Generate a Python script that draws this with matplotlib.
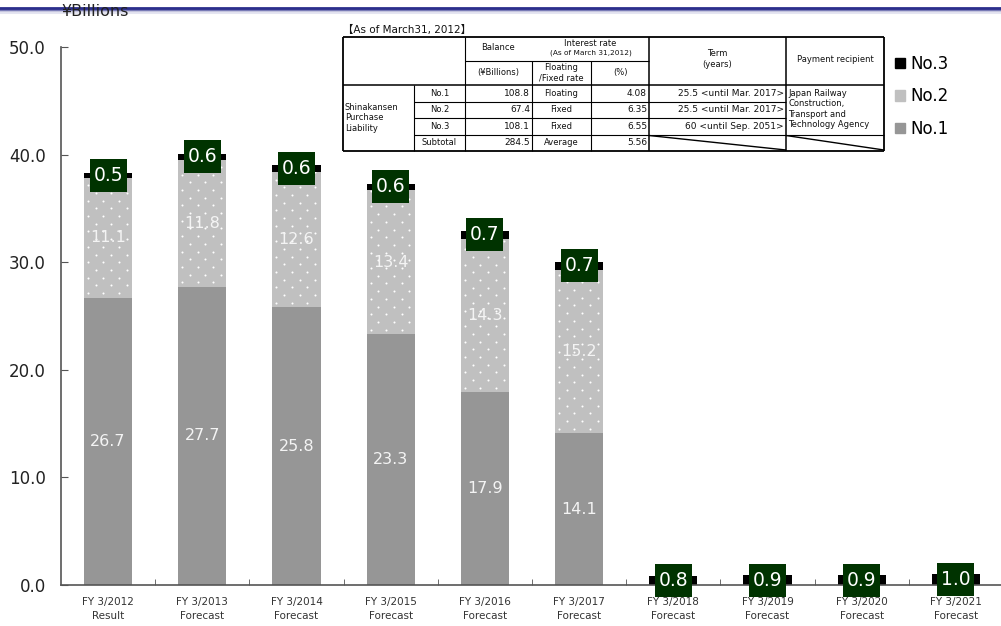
import matplotlib
matplotlib.use("Agg")
import matplotlib.pyplot as plt
import numpy as np
from matplotlib.patches import Patch, Rectangle

plt.rcParams['font.family'] = ['DejaVu Sans', 'Noto Sans CJK JP']

# ---------------- data ----------------
categories = ["FY 3/2012\nResult", "FY 3/2013\nForecast", "FY 3/2014\nForecast",
              "FY 3/2015\nForecast", "FY 3/2016\nForecast", "FY 3/2017\nForecast",
              "FY 3/2018\nForecast", "FY 3/2019\nForecast", "FY 3/2020\nForecast",
              "FY 3/2021\nForecast"]
no1 = [26.7, 27.7, 25.8, 23.3, 17.9, 14.1, 0, 0, 0, 0]
no2 = [11.1, 11.8, 12.6, 13.4, 14.3, 15.2, 0, 0, 0, 0]
no3 = [0.5, 0.6, 0.6, 0.6, 0.7, 0.7, 0.8, 0.9, 0.9, 1.0]
yticks = [0, 10, 20, 30, 40, 50]

table_title = "【As of March31, 2012】"
table_group = "Shinakansen\nPurchase\nLiability"
table_names = ["No.1", "No.2", "No.3", "Subtotal"]
table_balance = ["108.8", "67.4", "108.1", "284.5"]
table_type = ["Floating", "Fixed", "Fixed", "Average"]
table_rate = ["4.08", "6.35", "6.55", "5.56"]
table_term = ["25.5 <until Mar. 2017>", "25.5 <until Mar. 2017>", "60 <until Sep. 2051>", ""]
table_recipient = "Japan Railway\nConstruction,\nTransport and\nTechnology Agency"

# ---------------- figure ----------------
W, H = 1001, 626
fig = plt.figure(figsize=(W / 100, H / 100), dpi=100)

def fx(px):
    return px / W

def fy(py):
    return 1 - py / H

ax = fig.add_axes([fx(61), fy(585), fx(1003) - fx(61), fy(47) - fy(585)])

c1, c2, c3 = "#969696", "#C0C0C0", "#000000"
x = np.arange(len(categories))
bw = 0.51
b1 = ax.bar(x, no1, bw, color=c1, linewidth=0, zorder=2)
bottom2 = np.array(no1)
b2 = ax.bar(x, no2, bw, bottom=bottom2, color=c2, linewidth=0, zorder=2)
bottom3 = bottom2 + np.array(no2)
b3 = ax.bar(x, no3, bw, bottom=bottom3, color=c3, linewidth=0, zorder=2)

ax.set_xlim(-0.5, len(categories) - 0.5)
ax.set_ylim(0, 50)

px_per_x = (1003 - 61) / len(categories)
px_per_y = (585 - 47) / 50.0

# dotted texture on No.2 bars
dx = 15.5 / px_per_x
dy = 7.7 / px_per_y
for rect, v in zip(b2, no2):
    if v <= 0:
        continue
    x0 = rect.get_x()
    y0 = rect.get_y()
    xs, ys = [], []
    for r, yy in enumerate(np.arange(y0 + dy * 0.6, y0 + v, dy)):
        off = 0.25 * dx if r % 2 == 0 else 0.75 * dx
        for xx in np.arange(x0 + off, x0 + bw, dx):
            xs.append(xx)
            ys.append(yy)
    sc = ax.scatter(xs, ys, s=2.2, color="white", linewidths=0, zorder=3)
    sc.set_clip_path(rect)

# value labels
box_w = 37 / px_per_x
box_h = 33 / px_per_y
for i in range(len(categories)):
    if no1[i] > 0:
        ax.text(x[i], no1[i] / 2, f"{no1[i]:.1f}", ha="center", va="center",
                color="#F4F4F4", fontsize=11.5, zorder=5)
    if no2[i] > 0:
        ax.text(x[i], no1[i] + no2[i] / 2, f"{no2[i]:.1f}", ha="center", va="center",
                color="#F4F4F4", fontsize=11.5, zorder=5)
    yc = bottom3[i] + no3[i] / 2
    ax.add_patch(Rectangle((x[i] - box_w / 2, yc - box_h / 2), box_w, box_h,
                           facecolor="#003300", edgecolor="none", zorder=6, clip_on=False))
    ax.text(x[i], yc, f"{no3[i]:.1f}", ha="center", va="center",
            color="white", fontsize=13.5, zorder=7)

# axes styling
for s in ["top", "right"]:
    ax.spines[s].set_visible(False)
for s in ["left", "bottom"]:
    ax.spines[s].set_color("#555555")
    ax.spines[s].set_linewidth(1.2)
ax.set_yticks(yticks)
ax.set_yticklabels([f"{v:.1f}" for v in yticks], fontsize=12, color="#222222")
ax.tick_params(axis="y", direction="in", length=5, pad=11, color="#555555")
ax.set_xticks(x)
ax.set_xticklabels(categories, fontsize=7.5, color="#333333", linespacing=1.4)
ax.tick_params(axis="x", which="major", length=0, pad=9)
ax.set_xticks(x[:-1] + 0.5, minor=True)
ax.tick_params(axis="x", which="minor", direction="in", length=4, color="#555555")

# unit label
fig.text(fx(61), fy(12), "¥Billions", fontsize=11.5, va="center", ha="left", color="#222222")

# top decorative gradient line
for k, (al, lw) in enumerate([(1.0, 2.0), (0.5, 1.5), (0.25, 1.5), (0.12, 1.5)]):
    fig.add_artist(plt.Line2D([0, 1], [fy(8 + k * 1.6)] * 2, color="#2B2E8C",
                              alpha=al, linewidth=lw, transform=fig.transFigure))

# legend
handles = [Patch(color=c3, label="No.3"), Patch(color=c2, label="No.2"),
           Patch(color=c1, label="No.1")]
fig.legend(handles=handles, loc="upper left", bbox_to_anchor=(fx(888), fy(48)),
           frameon=False, fontsize=12, handlelength=0.6, handleheight=0.6,
           handletextpad=0.35, labelspacing=0.88, borderaxespad=0)

# ---------------- table ----------------
TL, TT, TR, TB = 343, 37, 884, 151
tax = fig.add_axes([fx(TL), fy(TB), fx(TR) - fx(TL), fy(TT) - fy(TB)])
tax.set_xlim(TL, TR)
tax.set_ylim(TB, TT)
tax.axis("off")
fig.text(fx(343), fy(30), table_title, fontsize=7.5, ha="left", va="center", color="#111111")

cols = [343, 414, 465, 532, 591, 649, 786, 884]
r_top, r_mid, r_head = 37, 61, 85
rows = [85, 101.5, 118, 134.5, 151]
lc = "#000000"

def L(x0, y0, x1, y1, lw=0.8):
    tax.plot([x0, x1], [y0, y1], color=lc, lw=lw, solid_capstyle="butt", clip_on=False)

# outer border
L(TL, TT, TR, TT, 1.3); L(TL, TB, TR, TB, 1.3)
L(TL, TT, TL, TB, 1.3); L(TR, TT, TR, TB, 1.3)
# vertical lines
L(cols[1], r_head, cols[1], TB)
L(cols[2], TT, cols[2], TB)
L(cols[3], r_mid, cols[3], TB)
L(cols[4], r_mid, cols[4], TB)
L(cols[5], TT, cols[5], TB, 1.1)
L(cols[6], TT, cols[6], TB, 1.1)
# horizontal lines
L(cols[2], r_mid, cols[5], r_mid)
L(TL, r_head, TR, r_head, 1.1)
for ry in rows[1:-1]:
    L(cols[1], ry, cols[6], ry)
L(cols[6], rows[3], TR, rows[3])
# diagonals in subtotal row
L(cols[5], rows[3] + 1, cols[6], rows[4] - 1, 1.0)
L(cols[6], rows[3] + 1, TR, rows[4] - 1, 1.0)

fs = 6.0
tc = "#111111"
def T(xx, yy, s, ha="center", fsz=fs):
    tax.text(xx, yy, s, ha=ha, va="center", fontsize=fsz, color=tc, linespacing=1.15)

T((cols[2] + cols[3]) / 2, 47, "Balance")
T((cols[2] + cols[3]) / 2, 73, "(¥Billions)")
T((cols[3] + cols[5]) / 2, 43, "Interest rate")
T((cols[3] + cols[5]) / 2, 53, "(As of March 31,2012)", fsz=5.3)
T((cols[3] + cols[4]) / 2, 73, "Floating\n/Fixed rate")
T((cols[4] + cols[5]) / 2, 73, "(%)")
T((cols[5] + cols[6]) / 2, 59, "Term\n(years)")
T((cols[6] + TR) / 2, 59, "Payment recipient")
T(cols[0] + 2, (r_head + TB) / 2, table_group, ha="left")
T(cols[6] + 2, 109, table_recipient, ha="left")
for i in range(4):
    yc = (rows[i] + rows[i + 1]) / 2
    T((cols[1] + cols[2]) / 2, yc, table_names[i])
    T(cols[3] - 2, yc, table_balance[i], ha="right", fsz=6.5)
    T((cols[3] + cols[4]) / 2, yc, table_type[i])
    T(cols[5] - 2, yc, table_rate[i], ha="right", fsz=6.5)
    if table_term[i]:
        T(cols[6] - 2, yc, table_term[i], ha="right", fsz=6.5)

fig.savefig("out.png", dpi=100)
